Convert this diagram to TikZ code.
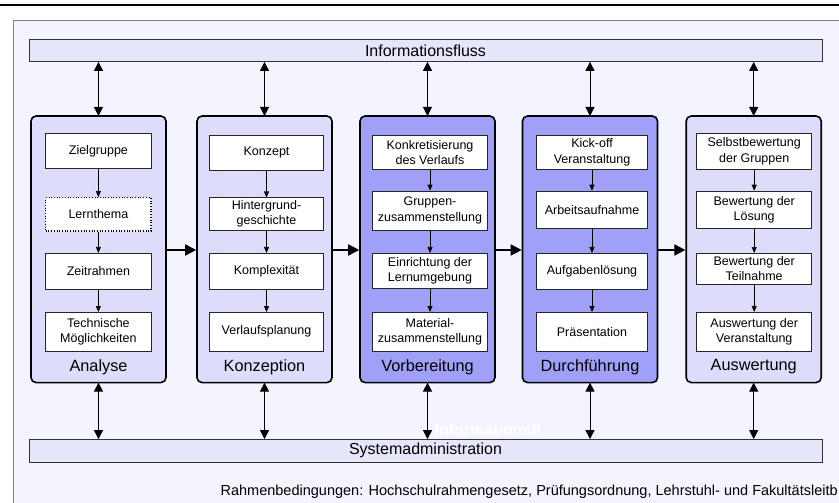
\documentclass[tikz,border=0pt]{standalone}
\usepackage{fontspec}
\setmainfont{Liberation Sans}
\usetikzlibrary{arrows.meta}
\definecolor{bgpale}{RGB}{244,244,254}
\definecolor{barfill}{RGB}{230,230,250}
\definecolor{phaselight}{RGB}{221,221,251}
\definecolor{phasedark}{RGB}{160,160,248}
\definecolor{framegray}{RGB}{128,128,128}
\begin{document}
\begin{tikzpicture}[x=1pt,y=-1pt,
  bar/.style={draw=black!80,line width=0.7pt,fill=barfill,minimum width=793pt,minimum height=22.5pt,inner sep=0pt,font=\fontsize{16}{18}\selectfont},
  phase/.style={draw=black,line width=1.6pt,rounded corners=5pt},
  item/.style={draw=black!85,line width=0.7pt,fill=white,align=center,font=\fontsize{12.5}{15.5}\selectfont,inner sep=0pt},
  phaselabel/.style={font=\fontsize{16.3}{18}\selectfont,anchor=center},
  flow/.style={-{Triangle[length=11pt,width=11pt]},line width=1.8pt},
  link/.style={{Triangle[length=9pt,width=9pt]}-{Triangle[length=9pt,width=9pt]},line width=1pt},
  inner/.style={-{Triangle[length=6pt,width=5pt]},line width=0.7pt}]
\useasboundingbox (0,0) rectangle (839,503);
\fill[white] (0,0) rectangle (839,503);
% outer frame and top rule
\draw[framegray,line width=0.8pt,fill=bgpale] (13,20) rectangle (850,515);
\draw[line width=2.2pt] (0,5) -- (839,5);
% information and system bars
\node[bar] (info) at (425.5,50.3) {Informationsfluss};
\node[bar] (sys) at (425.5,450.7) {Systemadministration};
% phase columns
\newcommand{\phasebox}[4]{%
  \node[phase,fill=#4,minimum width=135pt,minimum height=266.5pt,inner sep=0pt] (#1) at (#2,249.3) {};
  \node[phaselabel] (#1-lab) at (#2,367) {#3};
  \coordinate (#1-top) at (#2,116);
  \coordinate (#1-bot) at (#2,382.6);
}
\phasebox{ana}{98.5}{Analyse}{phaselight}
\phasebox{kon}{264.5}{Konzeption}{phaselight}
\phasebox{vor}{427.5}{Vorbereitung}{phasedark}
\phasebox{dur}{590}{Durchführung}{phasedark}
\phasebox{aus}{753.7}{Auswertung}{phaselight}
% Analyse
\node[item,minimum width=105.3pt,minimum height=35pt] (a1) at (98.4,150.8) {Zielgruppe};
\node[item,minimum width=105.3pt,minimum height=33.3pt,draw=black,dotted,line width=1.3pt] (a2) at (98.4,214.4) {Lernthema};
\node[item,minimum width=105.3pt,minimum height=36pt] (a3) at (98.4,271.3) {Zeitrahmen};
\node[item,minimum width=105.3pt,minimum height=38.7pt] (a4) at (98.4,331.7) {Technische\\Möglichkeiten};
% Konzeption
\node[item,minimum width=114.4pt,minimum height=34.3pt] (k1) at (266.5,152.9) {Konzept};
\node[item,minimum width=114.4pt,minimum height=32.3pt] (k2) at (266.5,213.9) {Hintergrund-\\geschichte};
\node[item,minimum width=114.4pt,minimum height=36pt] (k3) at (266.5,271.3) {Komplexität};
\node[item,minimum width=114.4pt,minimum height=38.7pt] (k4) at (266.5,331.7) {Verlaufsplanung};
% Vorbereitung
\node[item,minimum width=114.6pt,minimum height=34.7pt] (v1) at (430,152.4) {Konkretisierung\\des Verlaufs};
\node[item,minimum width=114.6pt,minimum height=39pt] (v2) at (430,210.5) {Gruppen-\\zusammenstellung};
\node[item,minimum width=114.6pt,minimum height=35.4pt] (v3) at (430,271) {Einrichtung der\\Lernumgebung};
\node[item,minimum width=114.6pt,minimum height=38.7pt] (v4) at (430,331.7) {Material-\\zusammenstellung};
% Durchführung
\node[item,minimum width=110.6pt,minimum height=34.7pt] (d1) at (592,152.4) {Kick-off\\Veranstaltung};
\node[item,minimum width=110.6pt,minimum height=37.3pt] (d2) at (592,209.7) {Arbeitsaufnahme};
\node[item,minimum width=110.6pt,minimum height=36pt] (d3) at (592,271.3) {Aufgabenlösung};
\node[item,minimum width=110.6pt,minimum height=38.7pt] (d4) at (592,331.7) {Präsentation};
% Auswertung
\node[item,minimum width=115pt,minimum height=35.7pt] (w1) at (754.2,151.2) {Selbstbewertung\\der Gruppen};
\node[item,minimum width=115pt,minimum height=37.3pt] (w2) at (754.2,209.7) {Bewertung der\\Lösung};
\node[item,minimum width=115pt,minimum height=30.7pt] (w3) at (754.2,268.7) {Bewertung der\\Teilnahme};
\node[item,minimum width=115pt,minimum height=39.4pt] (w4) at (754.2,332) {Auswertung der\\Veranstaltung};
% steps inside each phase
\foreach \p in {a,k,v,d,w}{
  \draw[inner] (\p1) -- (\p2);
  \draw[inner] (\p2) -- (\p3);
  \draw[inner] (\p3) -- (\p4);
}
% flow between phases
\draw[flow] (ana.east |- 0,250) -- (kon.west |- 0,250);
\draw[flow] (kon.east |- 0,250) -- (vor.west |- 0,250);
\draw[flow] (vor.east |- 0,250) -- (dur.west |- 0,250);
\draw[flow] (dur.east |- 0,250) -- (aus.west |- 0,250);
% links to the bars
\foreach \p in {ana,kon,vor,dur,aus}{
  \draw[link] (info.south -| \p-top) -- (\p-top);
  \draw[link] (\p-bot) -- (sys.north -| \p-bot);
}
% stray caption
\node[text=white,font=\bfseries\fontsize{16}{18}\selectfont,inner sep=0pt] (stray) at (488,429.5) {Informationsfl};
% framework conditions
\node[anchor=base east,font=\fontsize{14.5}{16}\selectfont,inner sep=0pt] (rahmen) at (838,495) {Rahmenbedingungen: Hochschulrahmengesetz, Prüfungsordnung, Lehrstuhl- und Fakultätsleitb};
\end{tikzpicture}
\end{document}
